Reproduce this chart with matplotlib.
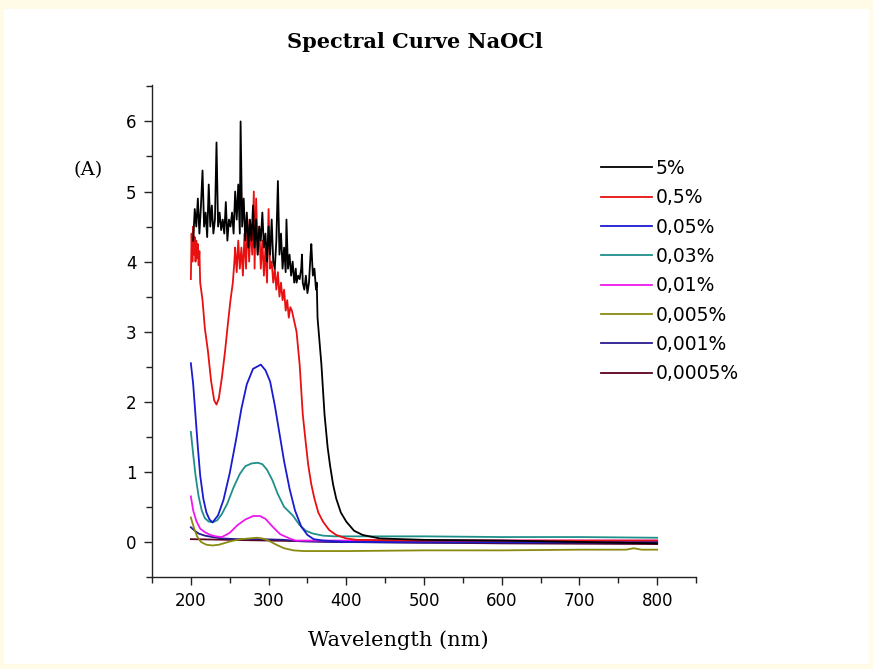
import matplotlib
matplotlib.use("Agg")
import matplotlib.pyplot as plt
from matplotlib.patches import Rectangle
from matplotlib.ticker import MultipleLocator

title = "Spectral Curve NaOCl"
xlabel = "Wavelength (nm)"
ylabel = "(A)"
labels = ["5%", "0,5%", "0,05%", "0,03%", "0,01%", "0,005%", "0,001%", "0,0005%"]
colors = ["#000000", "#e81010", "#1a1ad0", "#1f8f8a", "#ee18ee", "#8a8a10", "#2a1a90", "#5a0020"]

wl_5 = [203, 205, 207, 209, 211, 213, 215, 217, 219, 221, 223, 225, 227, 229, 231, 233, 235, 237,
        239, 241, 243, 245, 247, 249, 251, 253, 255, 257, 259, 261, 263, 264, 266, 268, 270, 272,
        274, 276, 278, 280, 282, 284, 286, 288, 290, 292, 294, 296, 298, 300, 302, 304, 306, 308,
        310, 312, 314, 316, 318, 320, 322, 323, 325, 327, 329, 331, 333, 335, 336, 338, 340, 342,
        343, 344, 346, 348, 350, 352, 354, 355, 357, 359, 361, 362, 363, 368, 372, 376, 379, 383,
        387, 393, 400, 410, 421, 443, 500, 600, 700, 800]
a_5 = [4.3, 4.75, 4.5, 4.9, 4.4, 4.8, 5.3, 4.5, 4.7, 4.35, 5.1, 4.5, 4.8, 4.4, 4.6, 5.7, 4.5, 4.7,
       4.45, 4.6, 4.4, 4.85, 4.3, 4.6, 4.5, 4.7, 4.4, 5.0, 4.6, 5.1, 4.4, 6.0, 4.5, 4.9, 4.3, 4.7,
       4.2, 4.6, 4.3, 4.8, 4.2, 4.6, 4.1, 4.5, 4.3, 4.7, 4.2, 4.4, 4.0, 4.5, 4.1, 4.6, 4.0, 3.9,
       4.3, 5.15, 4.1, 4.4, 3.9, 4.2, 3.85, 4.6, 3.9, 4.1, 3.8, 4.0, 3.7, 3.9, 3.7, 3.8, 3.75, 3.9,
       4.1, 3.7, 3.6, 3.8, 3.55, 3.7, 4.1, 4.25, 3.8, 3.9, 3.6, 3.7, 3.2, 2.53, 1.82, 1.35, 1.1, 0.82,
       0.62, 0.42, 0.29, 0.16, 0.1, 0.05, 0.03, 0.02, 0.0, -0.02]

wl_05 = [200, 201, 202, 203, 204, 205, 206, 207, 208, 209, 210, 211, 212, 215, 218, 222, 226, 230,
         233, 236, 240, 244, 248, 251, 254, 256, 257, 259, 261, 263, 265, 267, 269, 271, 273, 275,
         277, 279, 281, 282, 284, 286, 288, 290, 292, 294, 296, 298, 300, 302, 304, 306, 308, 310,
         312, 314, 316, 318, 320, 322, 324, 326, 328, 330, 332, 336, 340, 344, 348, 351, 355, 359,
         364, 370, 378, 387, 400, 413, 500, 600, 700, 800]
a_05 = [3.75, 4.4, 4.0, 4.5, 4.1, 4.35, 4.0, 4.3, 4.05, 4.25, 3.95, 4.15, 3.7, 3.45, 3.05, 2.72, 2.3, 2.02,
        1.96, 2.05, 2.35, 2.72, 3.15, 3.45, 3.7, 4.0, 4.2, 3.85, 4.3, 3.9, 4.2, 3.8, 4.4, 3.9, 4.6, 4.0,
        4.5, 4.1, 5.0, 3.9, 4.9, 4.1, 4.5, 3.9, 4.3, 3.8, 4.2, 3.7, 4.75, 3.9, 4.0, 3.7, 3.9, 3.6,
        3.85, 3.5, 3.7, 3.45, 3.6, 3.3, 3.45, 3.2, 3.35, 3.3, 3.2, 3.0, 2.53, 1.82, 1.4, 1.1, 0.82, 0.62,
        0.42, 0.29, 0.17, 0.1, 0.05, 0.03, 0.02, 0.02, 0.02, 0.02]

wl_005 = [200, 203, 206, 209, 212, 216, 220, 224, 228, 235, 242, 250, 258, 265, 272, 280, 290, 296,
          302, 308, 314, 320, 327, 334, 342, 350, 358, 370, 400, 600, 800]
a_005 = [2.55, 2.25, 1.8, 1.35, 0.95, 0.62, 0.42, 0.32, 0.28, 0.38, 0.6, 0.98, 1.45, 1.9, 2.25, 2.47,
         2.53, 2.45, 2.29, 1.95, 1.55, 1.15, 0.76, 0.45, 0.22, 0.1, 0.04, 0.02, 0.0, 0.0, 0.0]

wl_003 = [200, 203, 206, 210, 214, 218, 223, 228, 234, 240, 247, 255, 263, 270, 278, 286, 292, 298,
          305, 312, 320, 331, 340, 348, 357, 370, 385, 400, 500, 600, 700, 800]
a_003 = [1.57, 1.25, 0.95, 0.65, 0.45, 0.34, 0.29, 0.28, 0.31, 0.4, 0.55, 0.78, 0.97, 1.08, 1.12, 1.13,
         1.11, 1.03, 0.88, 0.68, 0.5, 0.38, 0.24, 0.16, 0.12, 0.09, 0.08, 0.08, 0.08, 0.07, 0.07, 0.06]

wl_001 = [200, 203, 207, 212, 218, 225, 232, 240, 250, 260, 270, 280, 289, 296, 305, 315, 327, 335,
          400, 600, 800]
a_001 = [0.65, 0.45, 0.3, 0.19, 0.14, 0.1, 0.08, 0.07, 0.13, 0.24, 0.32, 0.37, 0.37, 0.33, 0.22, 0.11,
         0.05, 0.02, 0.02, 0.02, 0.02]

wl_0005 = [200, 204, 208, 213, 220, 228, 236, 245, 255, 265, 275, 285, 292, 300, 310, 320, 332, 345,
           400, 500, 600, 700, 760, 770, 780, 800]
a_0005 = [0.35, 0.2, 0.08, 0.0, -0.04, -0.05, -0.04, -0.01, 0.02, 0.04, 0.05, 0.06, 0.05, 0.02, -0.04,
          -0.09, -0.12, -0.13, -0.13, -0.12, -0.12, -0.11, -0.11, -0.09, -0.11, -0.11]

wl_0001 = [200, 205, 210, 218, 228, 240, 260, 290, 320, 340, 380, 500, 800]
a_0001 = [0.21, 0.16, 0.12, 0.09, 0.07, 0.05, 0.04, 0.04, 0.03, 0.01, 0.0, -0.01, -0.01]

wl_00005 = [200, 250, 300, 400, 500, 600, 800]
a_00005 = [0.04, 0.03, 0.02, 0.0, -0.01, -0.02, -0.03]

series = [(wl_5, a_5), (wl_05, a_05), (wl_005, a_005), (wl_003, a_003), (wl_001, a_001),
          (wl_0005, a_0005), (wl_0001, a_0001), (wl_00005, a_00005)]

fig = plt.figure(figsize=(8.73, 6.69), dpi=100, facecolor="#fffbe6")
fig.patches.append(Rectangle((4 / 873, 5 / 669), 1 - 8 / 873, 1 - 14 / 669,
                             transform=fig.transFigure, facecolor="white", edgecolor="none", zorder=-10))
ax = fig.add_axes([152 / 873, 92 / 669, 544 / 873, 492 / 669])
ax.set_zorder(1)
ax.set_facecolor("white")

order = [7, 6, 5, 4, 3, 2, 1, 0]
handles = [None] * 8
for i in order:
    wl, a = series[i]
    h, = ax.plot(wl, a, color=colors[i], lw=1.3, label=labels[i])
    handles[i] = h

ax.set_xlim(150, 850)
ax.set_ylim(-0.5, 6.52)
ax.xaxis.set_major_locator(MultipleLocator(100))
ax.xaxis.set_minor_locator(MultipleLocator(50))
ax.yaxis.set_major_locator(MultipleLocator(1))
ax.yaxis.set_minor_locator(MultipleLocator(0.5))
ax.set_xticks(range(200, 801, 100))
for s in ["top", "right"]:
    ax.spines[s].set_visible(False)
for s in ["left", "bottom"]:
    ax.spines[s].set_linewidth(1.0)
    ax.spines[s].set_color("#222222")
ax.tick_params(which="major", direction="out", length=6, width=1, color="#222222",
               labelsize=12, pad=5)
ax.tick_params(which="minor", direction="out", length=4, width=1, color="#222222")
for lab in ax.get_xticklabels() + ax.get_yticklabels():
    lab.set_fontfamily("DejaVu Sans")

leg = ax.legend(handles=handles, labels=labels, loc="upper left", bbox_to_anchor=(0.795, 0.884),
                frameon=False, handlelength=2.7, handletextpad=0.2, labelspacing=0.55,
                prop={"family": "DejaVu Sans", "size": 13.5})

fig.text(415 / 873, 1 - 42 / 669, title, ha="center", va="center",
         fontfamily="DejaVu Serif", fontweight="bold", fontsize=15)
fig.text(398 / 873, 1 - 640 / 669, xlabel, ha="center", va="center",
         fontfamily="DejaVu Serif", fontsize=15)
fig.text(88 / 873, 1 - 170 / 669, ylabel, ha="center", va="center",
         fontfamily="DejaVu Serif", fontsize=14)

fig.savefig("out.png", dpi=100, facecolor=fig.get_facecolor())
